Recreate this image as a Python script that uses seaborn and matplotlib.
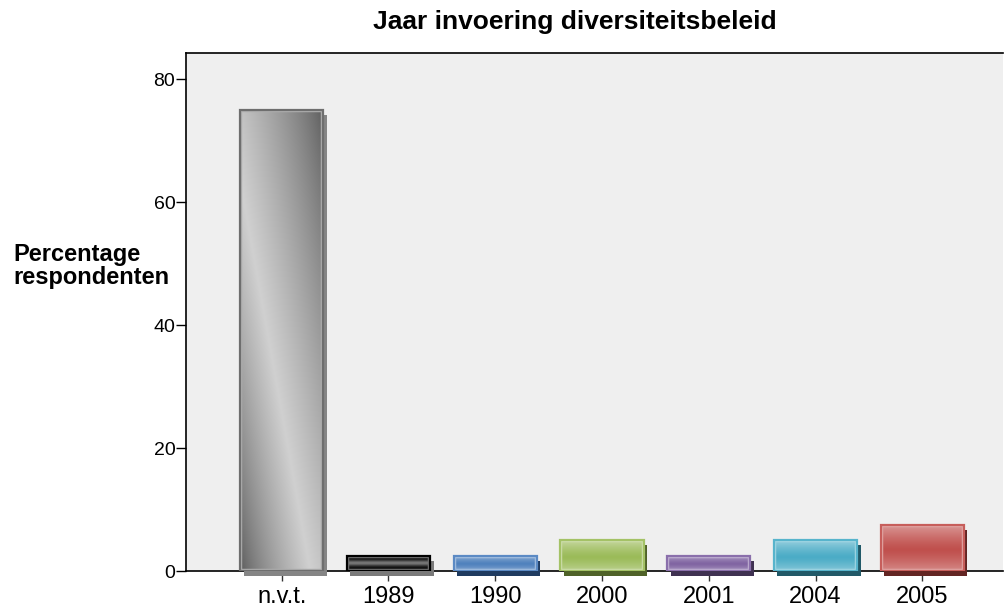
import numpy as np
import pandas as pd
import matplotlib
matplotlib.use("Agg")
import matplotlib.pyplot as plt
from matplotlib.patches import Rectangle
from matplotlib.transforms import ScaledTranslation
from matplotlib.colors import to_rgb
import seaborn as sns

# --- data -------------------------------------------------------------
categories = ["n.v.t.", "1989", "1990", "2000", "2001", "2004", "2005"]
percentages = [75.0, 2.5, 2.5, 5.0, 2.5, 5.0, 7.5]
y_ticks = [0, 20, 40, 60, 80]

title = "Jaar invoering diversiteitsbeleid"
y_label = "Percentage\nrespondenten"

# --- styling ----------------------------------------------------------
face_colors = ["#a6a6a6", "#1a1a1a", "#4f81bd", "#9bbb59", "#8064a2", "#4bacc6", "#c0504d"]
shadow_colors = ["#858585", "#7a7a7a", "#1f3b60", "#4f6228", "#3f3151", "#215968", "#632523"]
edge_colors = ["#6e6e6e", "#000000", "#5b8ac4", "#a4c266", "#8a6fab", "#57b4cc", "#c75e5b"]

sns.set_style("ticks")
plt.rcParams["font.family"] = ["Liberation Sans", "DejaVu Sans"]
plt.rcParams["text.color"] = "black"
plt.rcParams["xtick.color"] = "black"
plt.rcParams["ytick.color"] = "black"
plt.rcParams["xtick.labelcolor"] = "black"
plt.rcParams["ytick.labelcolor"] = "black"

W, H = 1005, 606
fig = plt.figure(figsize=(W / 100, H / 100), dpi=100)
ax_left, ax_right, ax_top, ax_bottom = 186, 1003, 53.3, 571
ax = fig.add_axes([ax_left / W, 1 - ax_bottom / H,
                   (ax_right - ax_left) / W, (ax_bottom - ax_top) / H])
ax.set_facecolor("#efefef")

df = pd.DataFrame({"jaar": categories, "pct": percentages})
sns.barplot(data=df, x="jaar", y="pct", hue="jaar", palette=face_colors,
            legend=False, width=0.78, saturation=1, ax=ax, zorder=3)


def mix(c, other, t):
    c = np.array(to_rgb(c))
    o = np.array(to_rgb(other))
    return c * (1 - t) + o * t


shadow_shift = ScaledTranslation(0.035, -0.05, fig.dpi_scale_trans)

bars = [cont.patches[0] for cont in ax.containers]
for i, p in enumerate(bars):
    x0, w, h = p.get_x(), p.get_width(), p.get_height()

    # drop shadow, offset down and to the right
    ax.add_patch(Rectangle((x0, 0), w, h, facecolor=shadow_colors[i],
                           edgecolor="none", transform=ax.transData + shadow_shift,
                           clip_on=False, zorder=2.9))

    # gradient fill
    n = 200
    if i == 0:
        # diagonal reflected gradient: light band from top-left to bottom-right
        u = np.linspace(0, 1, 60)[None, :]
        v = np.linspace(0, 1, n)[:, None]
        s = (u + (1 - v)) / 2
        peak = 0.42
        d = np.where(s >= peak, (s - peak) / (1 - peak), (peak - s) / peak)
        k = np.clip(1 - d, 0, 1) ** 0.75
        dark = np.array(to_rgb("#5a5a5a"))
        lite = np.array(to_rgb("#d0d0d0"))
        img = dark[None, None, :] * (1 - k[..., None]) + lite[None, None, :] * k[..., None]
    elif i == 1:
        v = np.linspace(0, 1, n)
        prof = np.exp(-((v - 0.5) / 0.18) ** 2) * 0.45
        base = np.array(to_rgb("#0a0a0a"))
        img = np.array([mix(base, "white", t) for t in prof])[:, None, :]
        img = np.repeat(img, 4, axis=1)
    else:
        v = np.linspace(0, 1, n)
        prof = 0.38 * np.clip(np.abs(v - 0.55) / 0.5, 0, 1) ** 1.3
        img = np.array([mix(face_colors[i], "white", t) for t in prof])[:, None, :]
        img = np.repeat(img, 4, axis=1)

    im = ax.imshow(img, extent=(x0, x0 + w, 0, h), origin="upper",
                   aspect="auto", interpolation="bilinear", zorder=3.1)
    im.set_clip_path(p)

    # inner highlight line and outer border
    hi = Rectangle((x0, 0), w, h, facecolor="none",
                   edgecolor=mix(edge_colors[i], "white", 0.45), linewidth=3.2,
                   zorder=3.2)
    ax.add_patch(hi)
    hi.set_clip_path(p)
    p.set_facecolor("none")
    p.set_edgecolor(edge_colors[i])
    p.set_linewidth(1.6)
    p.set_zorder(3.3)

ax.set_xlim(-0.896, 6.756)
ax.set_ylim(0, 84.2)

# --- axes decoration --------------------------------------------------
ax.set_yticks(y_ticks)
ax.set_yticklabels([str(t) for t in y_ticks], fontsize=14)
ax.set_xticks(range(len(categories)))
ax.set_xticklabels(categories, fontsize=17)
ax.tick_params(axis="y", length=7.2, width=1, color="black", pad=0.5)
ax.tick_params(axis="x", length=7.2, width=1, color="#333333", pad=3.5)
ax.set_xlabel("")
ax.set_ylabel("")

for side in ["left", "bottom", "top"]:
    ax.spines[side].set_visible(True)
    ax.spines[side].set_color("black")
    ax.spines[side].set_linewidth(1.2)
ax.spines["right"].set_visible(False)

fig.text(575 / W, 1 - 22 / H, title, ha="center", va="center",
         fontsize=19, fontweight="bold")
fig.text(13 / W, 1 - 266 / H, y_label, ha="left", va="center",
         fontsize=17, fontweight="bold", multialignment="left", linespacing=1.05)

fig.savefig("out.png", dpi=100)
